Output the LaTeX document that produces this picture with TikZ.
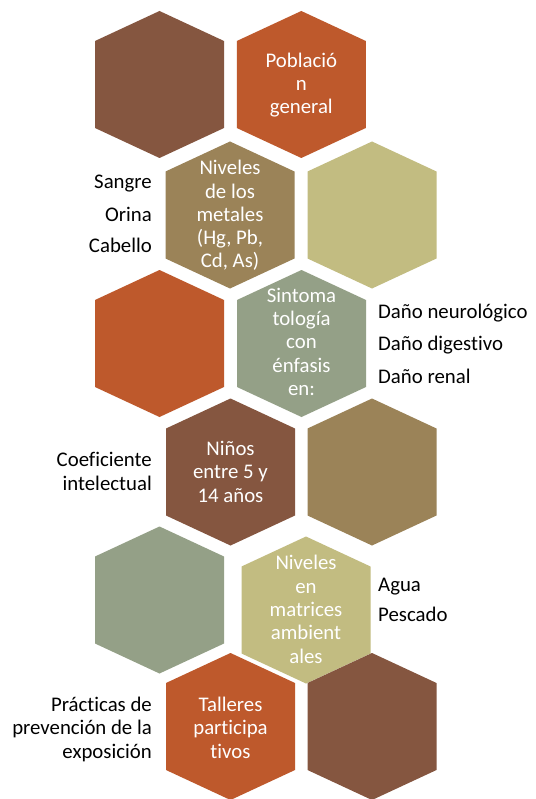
\documentclass[tikz,border=0pt]{standalone}
\usepackage{fontspec}
\setmainfont{Carlito}[Ligatures=NoCommon]
\definecolor{brownC}{RGB}{133,86,64}
\definecolor{orangeC}{RGB}{190,89,44}
\definecolor{khakiC}{RGB}{155,131,88}
\definecolor{oliveC}{RGB}{194,188,129}
\definecolor{greenC}{RGB}{148,160,135}
\newcommand\hexfill[2]{\fill[#2] (#1) +(0,-73.5) -- +(64.5,-43.5) -- +(64.5,43.5) -- +(0,73.5) -- +(-64.5,43.5) -- +(-64.5,-43.5) -- cycle;}
\tikzset{
  hextext/.style={text=white, align=center, inner sep=0pt, anchor=base, font=\fontsize{20.8}{23.3}\selectfont},
  sidetextL/.style={text=black, align=left, inner sep=0pt, anchor=base west, font=\fontsize{20.8}{23.3}\selectfont},
  sidetextR/.style={text=black, align=right, inner sep=0pt, anchor=base east, font=\fontsize{20.8}{23.3}\selectfont}
}
\begin{document}
\begin{tikzpicture}[x=1pt,y=-1pt]
\useasboundingbox[fill=white] (0,0) rectangle (535,799);
\coordinate (h1) at (159.5,84.5);
\coordinate (h2) at (301.3,84.5);
\coordinate (h3) at (230,215);
\coordinate (h4) at (372,215);
\coordinate (h5) at (159.5,343.5);
\coordinate (h6) at (301.5,343.5);
\coordinate (h7) at (230.5,472);
\coordinate (h8) at (372,472);
\coordinate (h9) at (159.5,600);
\coordinate (h10) at (306,610);
\coordinate (h11) at (230.5,726.5);
\coordinate (h12) at (372,726.5);
\hexfill{h1}{brownC}
\hexfill{h2}{orangeC}
\hexfill{h3}{khakiC}
\hexfill{h4}{oliveC}
\hexfill{h5}{orangeC}
\hexfill{h6}{greenC}
\hexfill{h7}{brownC}
\hexfill{h8}{khakiC}
\hexfill{h9}{greenC}
\hexfill{h10}{oliveC}
\hexfill{h11}{orangeC}
\hexfill{h12}{brownC}
\node[hextext] (t2) at (301.3,114) {Població\\n\\general};
\node[hextext] (t3) at (230,268) {Niveles\\de los\\metales\\(Hg, Pb,\\Cd, As)};
\node[hextext] (t6) at (301.5,395.5) {Sintoma\\tología\\con\\énfasis\\en:};
\node[hextext] (t7) at (230.5,502) {Niños\\entre 5 y\\14 años};
\node[hextext] (t10) at (306,663) {Niveles\\en\\matrices\\ambient\\ales};
\node[hextext] (t11) at (230.5,758) {Talleres\\participa\\tivos};
\node[sidetextR] (s3) at (152,253) {Sangre\\[8.7pt]Orina\\[8.7pt]Cabello};
\node[sidetextL] (s6) at (378,383) {Daño neurológico\\[9.2pt]Daño digestivo\\[9.2pt]Daño renal};
\node[sidetextR] (s7) at (152,490) {Coeficiente\\intelectual};
\node[sidetextL] (s10) at (378,621.7) {Agua\\[7.4pt]Pescado};
\node[sidetextR] (s11) at (152,758) {Prácticas de\\prevención de la\\exposición};
\end{tikzpicture}
\end{document}
